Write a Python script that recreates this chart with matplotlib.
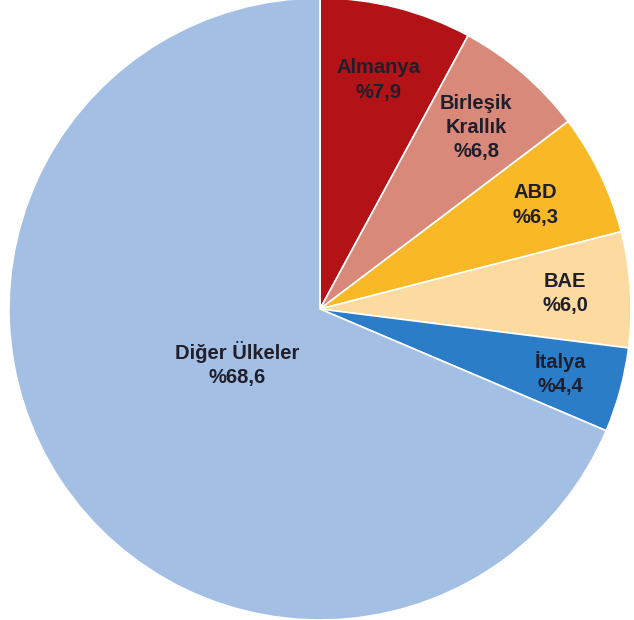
import numpy as np
import matplotlib
matplotlib.use("Agg")
import matplotlib.pyplot as plt

categories = ["Almanya", "Birleşik\nKrallık", "ABD", "BAE", "İtalya", "Diğer Ülkeler"]
values = [7.9, 6.8, 6.3, 6.0, 4.4, 68.6]
value_labels = ["%7,9", "%6,8", "%6,3", "%6,0", "%4,4", "%68,6"]
colors = ["#B31217", "#D98979", "#F9B825", "#FCDAA0", "#2C7DC7", "#A4BFE4"]
label_radii = [0.76, 0.77, 0.77, 0.79, 0.80, 0.32]

fig = plt.figure(figsize=(6.34, 6.2), dpi=100)
ax = fig.add_axes([0, 0, 1, 1])
R_px = 311.0
cx, cy = 320.0, 620.0 - 309.0
ax.axis("off")

wedges, _ = ax.pie(values, colors=colors, startangle=90, counterclock=False,
                   radius=1.0, wedgeprops=dict(edgecolor="white", linewidth=1.2))
ax.set_xlim(-cx / R_px, (634 - cx) / R_px)
ax.set_ylim(-cy / R_px, (620 - cy) / R_px)
ax.set_aspect("auto")

for w, cat, vl, r in zip(wedges, categories, value_labels, label_radii):
    ang = np.deg2rad((w.theta1 + w.theta2) / 2)
    x, y = r * np.cos(ang), r * np.sin(ang)
    ax.text(x, y, f"{cat}\n{vl}", ha="center", va="center", fontsize=14.5,
            fontweight="bold", family=["Liberation Sans", "DejaVu Sans"],
            color="#1E1E2C", linespacing=1.35)

fig.savefig("out.png", dpi=100)
